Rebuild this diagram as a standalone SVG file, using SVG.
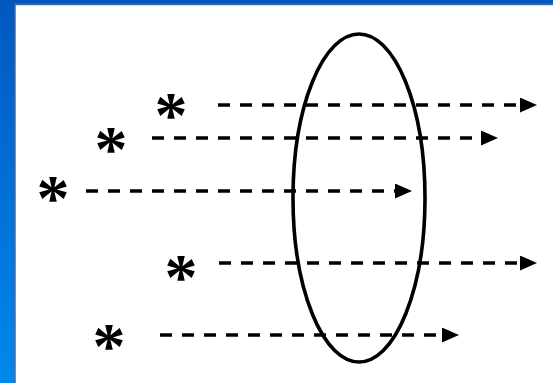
<svg xmlns="http://www.w3.org/2000/svg" width="553" height="383" viewBox="0 0 553 383">
<defs>
<linearGradient id="bg" x1="0" y1="0" x2="0" y2="1">
<stop offset="0" stop-color="#0058c0"/>
<stop offset="1" stop-color="#0088ec"/>
</linearGradient>
<marker id="ah" markerWidth="17" markerHeight="15" refX="1" refY="7.5" orient="auto" markerUnits="userSpaceOnUse">
<path d="M0,0 L17,7.5 L0,15 Z" fill="#000"/>
</marker>
</defs>
<style>
.star{font-family:"Liberation Serif","Times New Roman",serif;font-size:66px;font-weight:bold;fill:#000;text-anchor:middle}
.ray{stroke:#000;stroke-width:3.5;stroke-dasharray:12 10;fill:none}
</style>
<rect x="0" y="0" width="553" height="383" fill="url(#bg)"/>
<rect x="15" y="4.5" width="540" height="380" fill="#fff" stroke="#4868a8" stroke-width="1.5"/>
<g id="lens">
<ellipse cx="359" cy="198" rx="66" ry="164" fill="none" stroke="#000" stroke-width="3.6"/>
</g>
<g id="connectors">
<line class="ray" x1="218" y1="105" x2="521" y2="105" marker-end="url(#ah)"/>
<line class="ray" x1="152" y1="138" x2="482" y2="138" marker-end="url(#ah)"/>
<line class="ray" x1="86" y1="191" x2="396" y2="191" marker-end="url(#ah)"/>
<line class="ray" x1="219" y1="263" x2="521" y2="263" marker-end="url(#ah)"/>
<line class="ray" x1="160" y1="335" x2="443" y2="335" marker-end="url(#ah)"/>
</g>
<g id="star1"><text class="star" x="171" y="137">*</text></g>
<g id="star2"><text class="star" x="111" y="171">*</text></g>
<g id="star3"><text class="star" x="53" y="220">*</text></g>
<g id="star4"><text class="star" x="181" y="299">*</text></g>
<g id="star5"><text class="star" x="109" y="368">*</text></g>
</svg>
